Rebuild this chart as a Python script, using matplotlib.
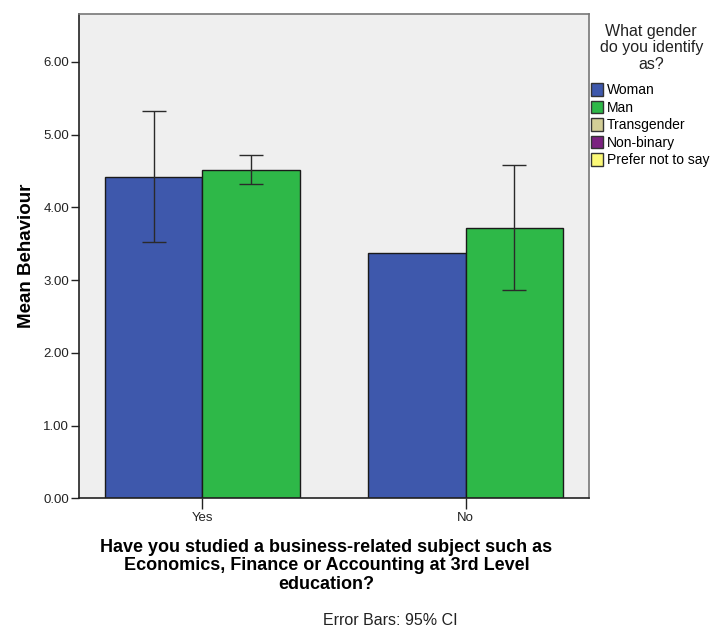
import numpy as np
import matplotlib.pyplot as plt
from matplotlib.patches import Patch

plt.rcParams['font.family'] = ['Liberation Sans', 'DejaVu Sans']

# Datos del gráfico
categorias = ['Yes', 'No']
generos = ['Woman', 'Man', 'Transgender', 'Non-binary', 'Prefer not to say']
colores = ['#3e58ac', '#2eb848', '#d3ce97', '#7b2180', '#fbf877']

media_mujer = [4.42, 3.37]
media_hombre = [4.51, 3.72]
ic_mujer_bajo = [3.53, None]
ic_mujer_alto = [5.32, None]
ic_hombre_bajo = [4.32, 2.87]
ic_hombre_alto = [4.72, 4.58]

fig = plt.figure(figsize=(7.11, 6.3), dpi=100)
ax = fig.add_axes([0.1111, 0.2090, 0.7173, 0.7688])
ax.set_facecolor('#efefef')

x = np.arange(len(categorias))
ancho = 0.37

ax.bar(x - ancho / 2, media_mujer, ancho, color=colores[0], edgecolor='#1a1a1a', linewidth=1, zorder=2)
ax.bar(x + ancho / 2, media_hombre, ancho, color=colores[1], edgecolor='#1a1a1a', linewidth=1, zorder=2)

# Barras de error (IC 95%)
for i in range(len(categorias)):
    if ic_mujer_bajo[i] is not None:
        m = media_mujer[i]
        ax.errorbar(x[i] - ancho / 2, m, yerr=[[m - ic_mujer_bajo[i]], [ic_mujer_alto[i] - m]],
                    fmt='none', ecolor='#2a2a2a', elinewidth=1, capsize=8.5, capthick=1, zorder=3)
    m = media_hombre[i]
    ax.errorbar(x[i] + ancho / 2, m, yerr=[[m - ic_hombre_bajo[i]], [ic_hombre_alto[i] - m]],
                fmt='none', ecolor='#2a2a2a', elinewidth=1, capsize=8.5, capthick=1, zorder=3)

ax.set_xlim(-0.468, 1.468)
ax.set_ylim(0, 6.66)
ax.set_yticks(np.arange(0, 7, 1))
ax.set_yticklabels(['%.2f' % v for v in np.arange(0, 7, 1)])
ax.set_xticks(x)
ax.set_xticklabels(categorias)
ax.tick_params(axis='y', direction='out', length=6, width=1, labelsize=9.5, colors='#222222', pad=1)
ax.tick_params(axis='x', direction='out', length=8, width=1, labelsize=9.5, colors='#222222', pad=2)
for lado in ['top', 'right']:
    ax.spines[lado].set_color('#777777')
for lado in ['left', 'bottom']:
    ax.spines[lado].set_color('#222222')
for s in ax.spines.values():
    s.set_linewidth(1.2)

ax.set_ylabel('Mean Behaviour', fontsize=13.5, fontweight='bold', labelpad=6)
fig.text(0.459, 0.1016, 'Have you studied a business-related subject such as\n'
         'Economics, Finance or Accounting at 3rd Level\neducation?',
         ha='center', va='center', fontsize=13, fontweight='bold', linespacing=1.08)
fig.text(0.549, 0.0143, 'Error Bars: 95% CI', ha='center', va='center', fontsize=11.5, color='#222222')

# Leyenda
fig.text(0.916, 0.962, 'What gender\ndo you identify\nas?', ha='center', va='top',
         fontsize=11.5, color='#222222', linespacing=1.12)
handles = [Patch(facecolor=c, edgecolor='#333333', linewidth=1) for c in colores]
fig.legend(handles, generos, loc='upper left', bbox_to_anchor=(0.831, 0.868), frameon=False,
           fontsize=10, handlelength=0.85, handleheight=1.0, handletextpad=0.3,
           labelspacing=0.25, borderaxespad=0, borderpad=0)

fig.savefig('out.png', dpi=100)
